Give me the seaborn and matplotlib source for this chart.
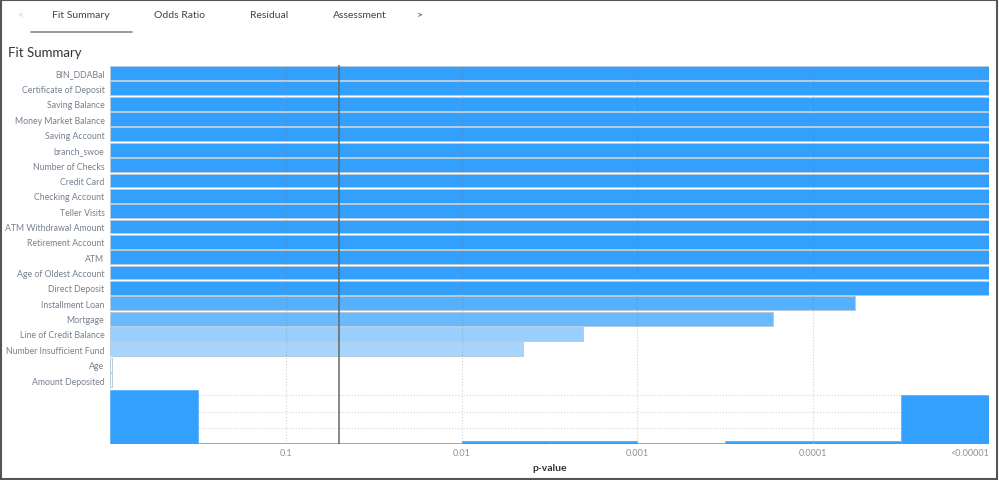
import numpy as np
import pandas as pd
import matplotlib
matplotlib.use("Agg")
import matplotlib.pyplot as plt
import matplotlib.colors as mcolors
import seaborn as sns

# --- Data (x is -log10(p-value), capped at 5) ---
variables = ["BIN_DDABal", "Certificate of Deposit", "Saving Balance", "Money Market Balance",
             "Saving Account", "branch_swoe", "Number of Checks", "Credit Card",
             "Checking Account", "Teller Visits", "ATM Withdrawal Amount", "Retirement Account",
             "ATM", "Age of Oldest Account", "Direct Deposit", "Installment Loan", "Mortgage",
             "Line of Credit Balance", "Number Insufficient Fund", "Age", "Amount Deposited"]
neglog_p = [5, 5, 5, 5, 5, 5, 5, 5, 5, 5, 5, 5, 5, 5, 5, 4.24, 3.77, 2.69, 2.35, 0.01, 0.01]

# histogram of the same scale (bin edges and bar heights as drawn)
hist_edges = [0, 0.5, 1, 1.5, 2, 2.5, 3, 3.5, 4, 4.5, 5]
hist_heights = [3.3, 0.06, 0.06, 0.06, 0.2, 0.2, 0.06, 0.2, 0.2, 3.0]

tick_pos = [1, 2, 3, 4, 5]
tick_labels = ["0.1", "0.01", "0.001", "0.0001", "<0.00001"]
alpha_cut = 1.301  # p = 0.05
tabs = ["Fit Summary", "Odds Ratio", "Residual", "Assessment"]

# --- Style ---
sns.set_style("white")
plt.rcParams['font.family'] = ['Lato', 'DejaVu Sans']
BLUE = "#33a0fd"
LABEL_GRAY = "#75808e"


def shade(v):
    a = (v / 5) ** 1.1
    base = np.array(mcolors.to_rgb(BLUE))
    return tuple(1 - a * (1 - base))


df = pd.DataFrame({"variable": variables, "value": neglog_p})
palette = {v: shade(x) for v, x in zip(variables, neglog_p)}

fig = plt.figure(figsize=(9.99, 4.81), dpi=100)

# main bar chart
ax = fig.add_axes([0.1101, 0.1919, 0.880, 0.6703])
sns.barplot(data=df, x="value", y="variable", hue="variable", palette=palette, saturation=1,
            legend=False, orient="h", width=0.9, edgecolor="#b9cbdc", linewidth=0.7, ax=ax)
ax.set_xlim(0, 5)
ax.set_ylim(len(variables) - 0.5, -0.5)
ax.set_xticks(tick_pos)
ax.set_xticklabels([])
ax.tick_params(axis="x", length=0)
ax.tick_params(axis="y", length=0, pad=4, labelsize=6.3, labelcolor=LABEL_GRAY)
ax.set_xlabel("")
ax.set_ylabel("")
ax.grid(axis="x", color="#7a7a7a", alpha=0.35, linestyle=":", linewidth=0.8)
ax.set_axisbelow(False)
for s in ax.spines.values():
    s.set_visible(False)
ax.axvline(alpha_cut, color="#666666", linewidth=1.1, zorder=5)

# histogram strip below
hx = fig.add_axes([0.1101, 0.0748, 0.880, 0.1165])
centers = [(a + b) / 2 for a, b in zip(hist_edges[:-1], hist_edges[1:])]
sns.histplot(x=centers, weights=hist_heights, bins=hist_edges, color=BLUE, alpha=1,
             edgecolor="#5db3fd", linewidth=0.6, ax=hx)
hx.set_xlim(0, 5)
hx.set_ylim(0, 3.45)
hx.set_yticks([1, 2, 3])
hx.set_yticklabels([])
hx.set_xticks(tick_pos)
hx.set_xticklabels(tick_labels, fontsize=6.5, color="#8a929c")
hx.tick_params(axis="both", length=0, pad=3)
hx.set_ylabel("")
hx.set_xlabel("p-value", fontsize=7.5, fontweight="bold", color="#333333", labelpad=4)
hx.grid(True, color="#d5d5d5", linestyle=":", linewidth=0.8)
hx.set_axisbelow(True)
for s in hx.spines.values():
    s.set_visible(False)
hx.axvline(alpha_cut, color="#666666", linewidth=1.1, zorder=5)
for lbl in hx.get_xticklabels()[-1:]:
    lbl.set_horizontalalignment("right")
    lbl.set_x(5)

# header: tabs and title
fig.text(20 / 999, 1 - 16 / 481, "<", fontsize=7.5, color="#cccccc", ha="center", va="center")
tab_x = [81, 180, 269, 360]
for t, x in zip(tabs, tab_x):
    fig.text(x / 999, 1 - 16 / 481, t, fontsize=7.5, color="#444444", ha="center", va="center")
fig.text(420 / 999, 1 - 16 / 481, ">", fontsize=7.5, color="#444444", ha="center", va="center")
fig.add_artist(plt.Line2D([31 / 999, 132 / 999], [1 - 33 / 481] * 2, color="#8a8a8a", linewidth=1.2))
fig.text(8 / 999, 1 - 53 / 481, "Fit Summary", fontsize=9.5, color="#333333", ha="left", va="center")

# outer frame
fig.add_artist(plt.Rectangle((0.001, 0.002), 0.997, 0.996, fill=False, edgecolor="#555555",
                             linewidth=1.5, transform=fig.transFigure))

fig.savefig("out.png", dpi=100)
